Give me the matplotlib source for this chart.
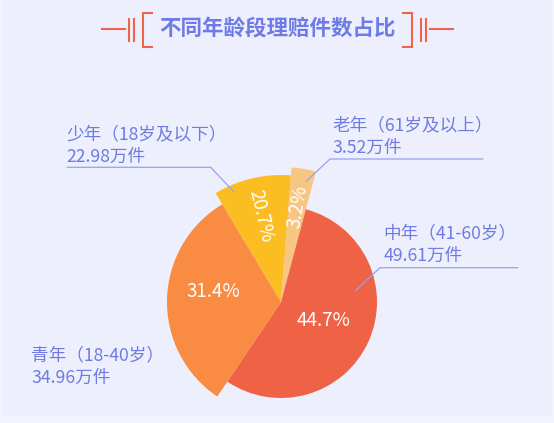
import numpy as np
import matplotlib
matplotlib.use("Agg")
import matplotlib.pyplot as plt

plt.rcParams['font.family'] = ['Noto Sans CJK SC', 'DejaVu Sans']

# claims by age group, listed clockwise from 12 o'clock
groups = ['老年（61岁及以上）', '中年（41-60岁）', '青年（18-40岁）', '少年（18岁及以下）']
claims = [3.52, 49.61, 34.96, 22.98]      # 万件
share_pct = [3.2, 44.7, 31.4, 20.7]
# sweep of each sector as drawn in the source chart (degrees)
sector_deg = [10.5, 199.0, 115.0, 35.5]

title = '不同年龄段理赔件数占比'

# styling
bg = '#EEEFFC'
colors = ['#F7C683', '#F06246', '#F98B43', '#FCBD23']
radius_px = [135, 96, 114, 127]
text_c = '#6E7BE6'
line_c = '#97A2EE'
deco_c = '#F0654A'

W, H = 554, 423
fig = plt.figure(figsize=(W / 100, H / 100), dpi=100)
fig.patch.set_facecolor('#F4F4FE')
ax = fig.add_axes([0, 0, 1, 1])

cx, cy = 281, 302
wedges, _ = ax.pie(sector_deg, colors=colors, startangle=4.5 - 90, counterclock=True,
                   center=(cx, cy), radius=100, wedgeprops=dict(linewidth=0))
for w, r in zip(wedges, radius_px):
    w.set_radius(r)

ax.set_xlim(0, W)
ax.set_ylim(H, 0)
ax.set_aspect('equal')
ax.axis('off')
ax.add_patch(plt.Rectangle((2, 0), 549, 415, color=bg, zorder=-5))

# percentage labels inside the sectors
pct_dist = [0.72, 0.48, 0.60, 0.70]
pct_nudge = [0, -1.5, 7, 0]
radial = [True, False, False, True]
for w, p, d, n, rad in zip(wedges, share_pct, pct_dist, pct_nudge, radial):
    mid = (w.theta1 + w.theta2) / 2 + n
    th = np.deg2rad(mid)
    x = cx + w.r * d * np.cos(th)
    y = cy + w.r * d * np.sin(th)
    rot = 0
    if rad:
        rot = (-mid + 180) % 360 - 180
        if rot > 90:
            rot -= 180
        elif rot < -90:
            rot += 180
    ax.text(x, y, f'{p}%', color='white', fontsize=13.5, rotation=rot,
            rotation_mode='anchor', ha='center', va='center')

# outer labels
label_xy = [(332.7, 125), (383.3, 233.3), (31, 355), (66.7, 134)]
leaders = [
    [(305.7, 181.7), (330, 159), (483.3, 159)],
    [(355, 291), (380, 267.7), (518.3, 267.7)],
    None,
    [(234, 192), (210.7, 167.3), (66.7, 167.3)],
]
for g, v, (lx, ly), lead in zip(groups, claims, label_xy, leaders):
    ax.text(lx, ly, g, color=text_c, fontsize=12.7, ha='left', va='center')
    ax.text(lx, ly + 23, f'{v:.2f}万件', color=text_c, fontsize=12.7, ha='left', va='center')
    if lead:
        xs, ys = zip(*lead)
        ax.plot(xs, ys, color=line_c, lw=0.9, solid_capstyle='butt')

# title with bracket decoration
mid_x, ty = 277.5, 29.3
ax.text(mid_x, ty, title, color=text_c, fontsize=15.5, fontweight='bold',
        ha='center', va='center')
for s in (1, -1):
    def fx(x):
        return mid_x + s * (x - mid_x)
    ax.plot([fx(101.7), fx(125)], [ty, ty], color=deco_c, lw=1.5)
    for bx in (129, 134.3):
        ax.plot([fx(bx), fx(bx)], [19.3, 40.7], color=deco_c, lw=1.5)
    ax.plot([fx(151.7), fx(142.7), fx(142.7), fx(151.7)], [12.7, 12.7, 46.7, 46.7],
            color=deco_c, lw=1.5, solid_joinstyle='miter')

fig.savefig('out.png', dpi=100, facecolor=fig.get_facecolor())
